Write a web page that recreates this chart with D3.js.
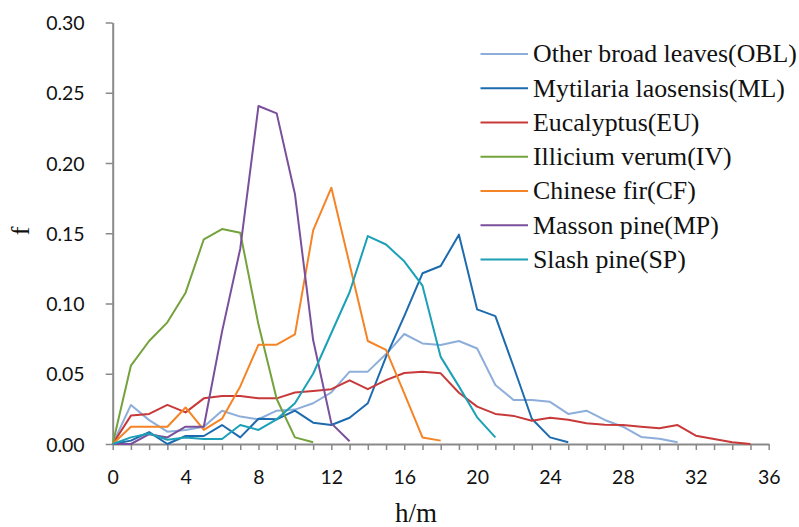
<!DOCTYPE html>
<html>
<head>
<meta charset="utf-8">
<script src="https://cdn.jsdelivr.net/npm/d3@7"></script>
<style>
  html, body { margin: 0; padding: 0; background: #fff; }
  svg { display: block; }
</style>
</head>
<body>
<svg id="chart" width="799" height="527"></svg>
<script>
// Tree height class (m) versus relative frequency f for each stand type
const seriesNames = [
  "Other broad leaves(OBL)",
  "Mytilaria laosensis(ML)",
  "Eucalyptus(EU)",
  "Illicium verum(IV)",
  "Chinese fir(CF)",
  "Masson pine(MP)",
  "Slash pine(SP)"
];
const seriesColors = ["#8DAEDB", "#1D6BAE", "#C8393A", "#74A23C", "#F58426", "#7A4F9B", "#1BA0B6"];

// frequencies by height class, starting at h = 0
const oblValues = [0, 0.0278, 0.017, 0.0088, 0.010, 0.0123, 0.0237, 0.0195, 0.0176, 0.0237, 0.0245,
  0.029, 0.0368, 0.0515, 0.0515, 0.064, 0.0783, 0.0716, 0.0705, 0.0733, 0.068, 0.042, 0.0313,
  0.0313, 0.030, 0.0214, 0.0237, 0.0171, 0.0123, 0.005, 0.0038, 0.0012];
const mlValues = [0, 0.0024, 0.0085, 0, 0.0057, 0.0057, 0.0135, 0.0047, 0.018, 0.0176, 0.0237,
  0.0152, 0.0135, 0.0187, 0.029, 0.062, 0.091, 0.1215, 0.1267, 0.149, 0.0958, 0.091, 0.055,
  0.018, 0.0047, 0.0012];
const euValues = [0, 0.0202, 0.0214, 0.0278, 0.0225, 0.0325, 0.0342, 0.0342, 0.0325, 0.0325, 0.0366,
  0.0377, 0.039, 0.0453, 0.039, 0.0455, 0.0505, 0.0515, 0.0503, 0.0365, 0.0266, 0.0214, 0.020,
  0.0165, 0.0187, 0.0172, 0.0147, 0.0137, 0.0135, 0.0123, 0.0112, 0.0135, 0.0059, 0.0035, 0.0012, 0];
const ivValues = [0, 0.0558, 0.0733, 0.0866, 0.1077, 0.1457, 0.153, 0.1504, 0.085, 0.032, 0.0047, 0.0012];
const cfValues = [0, 0.0123, 0.0123, 0.0123, 0.026, 0.010, 0.018, 0.041, 0.0707, 0.0707, 0.078,
  0.152, 0.1824, 0.128, 0.0733, 0.067, 0.036, 0.0047, 0.0024];
const mpValues = [0, 0, 0.007, 0.0047, 0.0123, 0.0123, 0.08, 0.139, 0.2406, 0.2353, 0.178, 0.074, 0.0147, 0.002];
const spValues = [0, 0.0047, 0.0075, 0.003, 0.0047, 0.0036, 0.0036, 0.0135, 0.010, 0.0176, 0.029,
  0.050, 0.079, 0.108, 0.148, 0.142, 0.130, 0.1127, 0.062, 0.041, 0.019, 0.0047];

const allSeries = [oblValues, mlValues, euValues, ivValues, cfValues, mpValues, spValues];

const yTickValues = [0, 0.05, 0.10, 0.15, 0.20, 0.25, 0.30];
const xLabelValues = [0, 4, 8, 12, 16, 20, 24, 28, 32, 36];

const svg = d3.select("#chart");
const axisColor = "#898989";
const tickFont = "Lato, 'Open Sans', sans-serif";
const serifFont = "'Liberation Serif', 'DejaVu Serif', serif";

const x = d3.scaleLinear().domain([0, 36]).range([112.7, 768.7]);
const y = d3.scaleLinear().domain([0, 0.30]).range([444, 22.5]);

// Y axis
const yAxis = svg.append("g")
  .attr("transform", `translate(${x(0)},0)`)
  .call(d3.axisLeft(y).tickValues(yTickValues).tickFormat(d3.format(".2f")).tickSize(7).tickSizeOuter(0));

// X axis: a tick for every metre, labels every 4 m
const xAxis = svg.append("g")
  .attr("transform", `translate(0,${y(0)})`)
  .call(d3.axisBottom(x).tickValues(d3.range(0, 37)).tickFormat(d => xLabelValues.includes(d) ? d : "")
    .tickSize(6).tickSizeOuter(0));

[yAxis, xAxis].forEach(g => {
  g.select(".domain").attr("stroke", axisColor).attr("stroke-width", 2);
  g.selectAll(".tick line").attr("stroke", axisColor).attr("stroke-width", 1.5);
  g.selectAll(".tick text").attr("fill", "#111").style("font-family", tickFont).style("font-size", "19.5px");
});
yAxis.selectAll(".tick text").attr("x", -28).attr("dy", "0.36em");
xAxis.selectAll(".tick text").attr("y", 40).attr("dy", "0");

// Lines
const line = d3.line().x((d, i) => x(i)).y(d => y(d));
svg.append("g").selectAll("path")
  .data(allSeries)
  .join("path")
  .attr("d", line)
  .attr("fill", "none")
  .attr("stroke", (d, i) => seriesColors[i])
  .attr("stroke-width", 2)
  .attr("stroke-linejoin", "round");

// Legend
const legend = svg.append("g");
const rowY = d3.scaleLinear().domain([0, 6]).range([54, 259.5]);
seriesNames.forEach((name, i) => {
  legend.append("line")
    .attr("x1", 480.5).attr("x2", 528)
    .attr("y1", rowY(i)).attr("y2", rowY(i))
    .attr("stroke", seriesColors[i]).attr("stroke-width", 2);
  legend.append("text")
    .attr("x", 533).attr("y", rowY(i) + 8.3)
    .attr("fill", "#111")
    .style("font-family", serifFont)
    .style("font-size", "23px")
    .text(name);
});
// size the legend font so the longest entry spans its box
const first = legend.select("text").node();
const w = first.getComputedTextLength();
const legendSize = 23 * 264 / w;
legend.selectAll("text").style("font-size", legendSize + "px");

// Axis titles
svg.append("text")
  .attr("x", 416).attr("y", 521.5)
  .attr("text-anchor", "middle")
  .attr("fill", "#111")
  .style("font-family", serifFont)
  .style("font-size", "27px")
  .text("h/m");

svg.append("text")
  .attr("transform", "translate(29,231) rotate(-90)")
  .attr("text-anchor", "middle")
  .attr("fill", "#111")
  .style("font-family", serifFont)
  .style("font-size", "26px")
  .text("f");
</script>
</body>
</html>
